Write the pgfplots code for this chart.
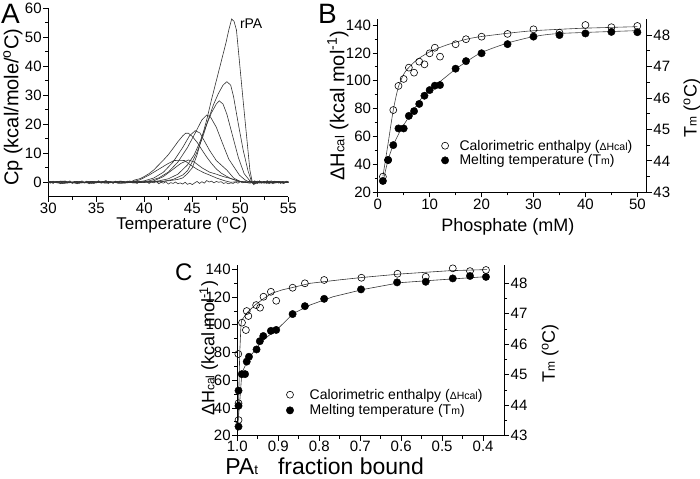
\documentclass[border=0pt]{standalone}
\usepackage{fontspec}
\setmainfont{Liberation Sans}
\usepackage{pgfplots}
\pgfplotsset{compat=1.18}
\newcommand{\fs}[1]{\fontsize{#1bp}{#1bp}\selectfont}

\pgfplotsset{
  panel/.style={
    scale only axis, anchor=south west, clip=false,
    axis line style={black, line width=0.8bp},
    tick style={black, line width=0.7bp},
    major tick length=5bp, minor tick length=3bp,
    tick align=outside,
    /pgf/number format/assume math mode=true,
    tick label style={font=\fs{15}, inner sep=1.5bp},
  },
  curve/.style={black!80, line width=0.6bp, mark=none},
  fit/.style={black!75, line width=0.6bp, mark=none, smooth, tension=0.4},
  opendot/.style={only marks, mark=o, mark size=3.5bp, mark options={line width=0.6bp, black}},
  filldot/.style={only marks, mark=*, mark size=3.7bp, mark options={black}},
}

\begin{document}
\begin{tikzpicture}
\useasboundingbox (0,0) rectangle (700bp,479bp);

% ---------------- panel A ----------------
\begin{axis}[panel,
  at={(48.3bp,282.2bp)}, width=240bp, height=188.5bp,
  xmin=30, xmax=55, ymin=-5, ymax=60,
  axis x line*=bottom, axis y line*=left,
  xtick={30,35,...,55}, ytick={0,10,...,60},
  minor x tick num=1, minor y tick num=1,
  every axis x label/.style={at={(axis description cs:0.556,-0.175)}, anchor=base, font=\fs{17}},
  every axis y label/.style={at={(axis description cs:-0.125,0.475)}, anchor=base, rotate=90, font=\fs{20}},
  xlabel={Temperature (\textsuperscript{o}C)},
  ylabel={Cp (kcal/mole/\textsuperscript{o}C)},
]
% flat trace
\addplot[curve] coordinates {(30,0.2)(30.25,-0.3)(30.5,0.4)(30.75,-0.1)(31,0.3)(31.25,-0.5)(31.5,0.1)(31.75,0.5)(32,-0.2)(32.25,0.2)(32.5,-0.4)(32.75,0.3)(33,0.0)(33.25,-0.3)(33.5,0.5)(33.75,-0.1)(34,0.2)(34.25,-0.5)(34.5,0.3)(34.75,0.1)(35,-0.2)(35.25,0.4)(35.5,-0.3)(35.75,0.2)(36,0.6)(36.25,-0.1)(36.5,0.1)(36.75,-0.4)(37,0.3)(37.25,-0.2)(37.5,0.4)(37.75,0.0)(38,-0.3)(38.25,0.2)(38.5,0.5)(38.75,-0.2)(39,0.1)(39.25,-0.4)(39.5,0.3)(39.75,0.2)(40,-0.1)(40.25,0.3)(40.5,-0.4)(40.75,0.1)(41,-0.2)(41.25,0.3)(41.5,-0.5)(41.75,0.0)(42,-0.3)(42.25,0.2)(42.5,-0.6)(42.75,-0.1)(43,-0.4)(43.25,0.1)(43.5,-0.5)(43.75,-0.2)(44,-0.6)(44.25,0.0)(44.5,-0.7)(44.75,-0.3)(45,-0.8)(45.25,-0.2)(45.5,0.3)(45.75,-0.4)(46,0.2)(46.25,-0.3)(46.5,0.6)(46.75,0.1)(47,0.4)(47.25,-0.2)(47.5,0.3)(47.75,0.0)(48,0.2)(48.25,-0.4)(48.5,-0.1)(48.75,-0.5)(49,-0.2)(49.25,-0.4)(49.5,0.1)(49.75,-0.3)(50,0.2)(50.25,-0.2)(50.5,0.3)(50.75,0.0)(51,0.4)(51.25,-0.3)(51.5,0.5)(51.75,-0.1)(52,0.4)(52.25,-0.2)(52.5,0.3)(52.75,-0.4)(53,0.2)(53.25,0.5)(53.5,-0.2)(53.75,0.3)(54,-0.3)(54.25,0.1)(54.5,-0.4)(54.75,0.2)(55,-0.1)};
% rPA
\addplot[curve] coordinates {(30,0.1)(31.5,-0.3)(33,0.3)(34.5,-0.2)(36,0.2)(37.5,-0.3)(39,0.2)(40.5,0.1)(41.5,0.3)(42.5,0.5)(43.5,1.0)(44,1.5)(44.5,3)(45,5)(45.5,9.5)(46,15.5)(46.5,21.5)(47,28.5)(47.5,35)(48,41.5)(48.5,48)(48.8,52.5)(49.1,56.3)(49.35,55.5)(49.6,52.5)(50.3,28)(51.0,4.2)(51.25,0)(51.4,-0.8)(51.6,0.2)(51.8,-0.4)(52,0.5)(52.2,-0.3)(52.4,0.3)(52.6,-0.2)(52.8,0.6)(53,-0.3)(53.2,0.2)(53.4,-0.5)(53.6,0.4)(53.8,-0.1)(54,0.3)(54.2,-0.4)(54.4,0.2)(54.6,-0.2)(54.8,0.4)(55,0)};
% peak 35
\addplot[curve] coordinates {(30,-0.2)(31.5,0.3)(33,-0.2)(34.5,0.3)(36,-0.1)(37.5,0.3)(39,-0.2)(40.5,0.2)(41.5,0.1)(42,0.3)(43,1)(44,2.5)(44.5,4)(45.1,7.7)(45.5,10.5)(46.1,15.7)(46.6,21)(47.2,26.7)(47.7,30.5)(48.2,33.5)(48.6,34.7)(49,33.5)(49.3,29.5)(49.8,20)(50.3,11.1)(50.8,4)(51.2,0)(51.5,-0.6)(52,0.3)(52.5,-0.3)(53,0.4)(53.5,-0.2)(54,0.3)(54.5,-0.3)(55,0.2)};
% peak 28
\addplot[curve] coordinates {(30,0.3)(31.5,-0.2)(33,0.2)(34.5,-0.4)(36,0.3)(37.5,-0.2)(39,0.3)(40.5,0)(41.5,0.5)(42.5,1.2)(43.5,2.8)(44.5,6)(45.2,9.5)(45.8,14)(46.5,20)(47,24)(47.5,27)(47.8,28.1)(48.2,27)(48.6,23.5)(49.2,16)(49.8,8.5)(50.4,3)(51,0.5)(51.3,-0.3)(51.8,0.4)(52.3,-0.2)(52.8,0.3)(53.3,-0.3)(53.8,0.2)(54.3,-0.2)(55,0.1)};
% peak 23
\addplot[curve] coordinates {(30,-0.1)(31.5,0.2)(33,-0.3)(34.5,0.2)(36,-0.2)(37.5,0.4)(39,-0.1)(39.5,0)(40.5,0.5)(41.5,1.5)(42.5,3.5)(43.5,7)(44.5,12)(45.3,17)(46,21.5)(46.5,23.2)(46.9,22.5)(47.5,19)(48.2,13)(48.8,8)(49.3,5.5)(49.9,2.5)(50.5,0.8)(51,0)(51.5,0.4)(52,-0.3)(52.5,0.2)(53,-0.4)(53.5,0.3)(54,-0.1)(55,0.2)};
% peak 18
\addplot[curve] coordinates {(30,0.2)(31.5,-0.4)(33,0.1)(34.5,-0.1)(36,0.4)(37.5,-0.3)(39,0)(40,0.5)(41,1.5)(42,3.5)(43,7)(44,12)(44.7,16)(45.3,17.8)(45.8,17)(46.1,15.2)(46.8,11)(47.5,7.5)(48.6,4.2)(49.3,1.5)(49.9,0.4)(50.5,0)(51,-0.3)(51.5,0.3)(52.5,-0.2)(53.5,0.3)(54.5,-0.2)(55,0)};
% peak 17 (left)
\addplot[curve] coordinates {(30,-0.2)(30.25,0.3)(30.5,-0.4)(30.75,0.2)(31,0.0)(31.25,0.4)(31.5,-0.3)(31.75,0.1)(32,-0.1)(32.25,0.5)(32.5,-0.2)(32.75,0.2)(33,-0.5)(33.25,0.3)(33.5,0.1)(33.75,-0.3)(34,0.4)(34.25,-0.1)(34.5,0.2)(34.75,-0.4)(35,0.1)(35.25,0.5)(35.5,-0.2)(35.75,0.0)(36,0.3)(36.25,-0.4)(36.5,0.2)(36.75,-0.1)(37,0.4)(37.25,-0.3)(37.5,0.1)(37.75,0.3)(38,-0.2)(38.25,0.4)(38.5,0.2)(38.75,0.4)(39,0.8)(39.5,1.2)(40,2)(40.5,3)(41,4.3)(41.5,6)(42,7.7)(42.5,9.5)(43,11.7)(43.5,14)(44,16)(44.3,16.9)(44.6,16.9)(45,15.8)(45.5,13.8)(46,11.2)(46.5,8.7)(47,6.5)(47.5,4.6)(48,3.2)(48.5,2.2)(49,1.3)(49.5,0.7)(50,0.3)(50.5,0)(51,0.2)(51.5,-0.3)(52,0.2)(53,-0.2)(54,0.3)(55,0)};
% peak 8
\addplot[curve] coordinates {(30,0.1)(31.5,0.4)(33,-0.2)(34.5,0.3)(36,-0.3)(37.5,0.2)(39,-0.2)(40,0)(41,0.5)(42,2)(43,4.5)(43.8,6.5)(44.6,7.7)(45.2,7)(46,5)(46.8,3.5)(47.5,2.8)(48.2,2)(48.9,1.4)(49.9,0.4)(50.5,0)(51,0.3)(51.5,-0.4)(52.5,0.3)(53.5,-0.3)(54.5,0.2)(55,0)};
% flat-top 7.5
\addplot[curve] coordinates {(30,0)(31.5,0.2)(33,-0.3)(34.5,0.1)(36,0.2)(37.5,-0.2)(38.5,0)(39.5,0.8)(40.5,2.5)(41.5,4.5)(42.5,6.5)(43.1,7.5)(43.7,7.6)(44.2,7.5)(44.8,6)(45.5,4.5)(46.2,3.3)(46.8,2.5)(47.5,1.5)(48.3,0.6)(49,0)(50,0.3)(51,-0.2)(52,0.3)(53,-0.2)(54,0.2)(55,0)};
\node[anchor=base west, font=\fs{14}, inner sep=0] at (axis cs:49.95,53.2) {rPA};
\end{axis}

% ---------------- panel B ----------------
\begin{axis}[panel,
  at={(377.7bp,286.7bp)}, width=269bp, height=173.3bp,
  xmin=0, xmax=51.8, ymin=20, ymax=144.3,
  axis x line*=bottom, axis y line*=left,
  xtick={0,10,...,50}, ytick={20,40,...,140},
  minor x tick num=1, minor y tick num=1,
  every axis x label/.style={at={(axis description cs:0.484,-0.227)}, anchor=base, font=\fs{18}},
  every axis y label/.style={at={(axis description cs:-0.124,0.5)}, anchor=base, rotate=90, font=\fs{20}},
  xlabel={Phosphate (mM)},
  ylabel={ΔH{\fs{13}cal} (kcal mol\textsuperscript{-1})},
]
\addplot[fit] coordinates {(1,31.5)(2,55)(3,79)(4,95.8)(5.3,106.5)(7.5,114.9)(10.1,120.9)(13.3,125.7)(17.1,129.8)(19.7,131.6)(24.9,134.0)(30,135.9)(39,137.6)(50,138.8)};
\addplot[opendot] coordinates {(1,31.2)(2,43)(3,79.0)(4,96.3)(5,101.3)(6,109.4)(7,105.8)(8,113.7)(9,111.8)(10,119.7)(11,123.7)(12,117.3)(15,126.2)(17,129.8)(20,131.6)(25,133.6)(30,136.9)(35,134.5)(40,140)(45,138.4)(50,139.3)};
\end{axis}
\begin{axis}[panel,
  at={(377.7bp,286.7bp)}, width=269bp, height=173.3bp,
  xmin=0, xmax=51.8, ymin=43, ymax=48.51,
  axis x line=none, axis y line*=right, xtick=\empty,
  ytick={43,...,48}, minor y tick num=1,
  every axis y label/.style={at={(axis description cs:1.186,0.485)}, anchor=base, rotate=90, font=\fs{18}},
  ylabel={T{\fs{12}m} (\textsuperscript{o}C)},
  legend cell align=left,
  legend style={at={(axis description cs:0.236,0.315)}, anchor=north west, draw=none, fill=none,
    font=\fs{14}, inner sep=0pt, row sep=-1bp, nodes={inner sep=2bp},
    /tikz/every odd column/.append style={column sep=8.8bp}},
]
\addlegendimage{opendot}
\addlegendentry{Calorimetric enthalpy ({\fs{10.5}ΔHcal})}
\addplot[fit, forget plot] coordinates {(1,43.32)(2,44.03)(3,44.5)(4.6,45.03)(6.9,45.62)(9.4,46.2)(12,46.52)(15.2,46.94)(19.7,47.42)(24.9,47.74)(30,47.95)(35.1,48.05)(50,48.14)};
\addplot[filldot] coordinates {(1,43.36)(2,44.03)(3,44.50)(4,45.03)(5,45.03)(6,45.43)(7,45.58)(8,45.81)(9,46.07)(10,46.25)(11,46.39)(12,46.41)(15,46.93)(17,47.17)(20,47.42)(25,47.71)(30,47.95)(35,48.0)(40,48.05)(45,48.10)(50,48.09)};
\addlegendentry{Melting temperature (T{\fs{10.5}m})}
\end{axis}

% ---------------- panel C ----------------
\begin{axis}[panel,
  at={(237.3bp,43.3bp)}, width=266.7bp, height=170.7bp,
  x dir=reverse, xmin=0.349, xmax=1.0, ymin=20, ymax=143.1,
  axis x line*=bottom, axis y line*=left,
  xtick={0.4,0.5,...,1.0}, ytick={20,40,...,140},
  minor x tick num=1, minor y tick num=1,
  xticklabel style={inner sep=0.5bp, /pgf/number format/.cd, fixed, fixed zerofill, precision=1},
  every axis x label/.style={at={(axis description cs:-0.058,-0.230)}, anchor=base west, font=\fs{23}},
  every axis y label/.style={at={(axis description cs:-0.086,0.512)}, anchor=base, rotate=90, font=\fs{18}},
  xlabel={PA{\fs{13.5}t}\hspace{20bp}fraction bound},
  ylabel={ΔH{\fs{12}cal} (kcal mol\textsuperscript{-1})},
]
\addplot[curve, line width=0.6bp] coordinates {(0.998,31)(0.994,80)(0.991,100)(0.989,103.4)(0.975,109)(0.957,114.2)(0.935,119)(0.916,122.7)(0.89,125.2)(0.863,127)(0.822,129.9)(0.75,132.4)(0.692,134.2)(0.603,136.6)(0.481,139)(0.39,139.8)};
\addplot[opendot] coordinates {(0.9975,78.9)(0.997,43.4)(0.997,31.3)(0.9885,101.5)(0.979,96.2)(0.977,109.9)(0.973,106.3)(0.954,114.2)(0.9445,112.3)(0.936,120.2)(0.918,123.8)(0.905,117.3)(0.865,126.7)(0.835,129.9)(0.788,132.3)(0.697,133.9)(0.609,136.8)(0.54,134.6)(0.474,140.7)(0.432,138.7)(0.393,139.5)};
\end{axis}
\begin{axis}[panel,
  at={(237.3bp,43.3bp)}, width=266.7bp, height=170.7bp,
  x dir=reverse, xmin=0.349, xmax=1.0, ymin=43, ymax=48.6,
  axis x line=none, axis y line*=right, xtick=\empty,
  ytick={43,...,48}, minor y tick num=1,
  every axis y label/.style={at={(axis description cs:1.191,0.483)}, anchor=base, rotate=90, font=\fs{18}},
  ylabel={T{\fs{12}m} (\textsuperscript{o}C)},
  legend cell align=left,
  legend style={at={(axis description cs:0.183,0.287)}, anchor=north west, draw=none, fill=none,
    font=\fs{14}, inner sep=0pt, row sep=0bp, nodes={inner sep=2bp},
    /tikz/every odd column/.append style={column sep=14bp}},
]
\addlegendimage{opendot}
\addlegendentry{Calorimetric enthalpy ({\fs{10.5}ΔHcal})}
\addplot[curve, forget plot] coordinates {(0.999,43.3)(0.993,44.3)(0.989,45.05)(0.979,45.35)(0.969,45.59)(0.952,45.9)(0.936,46.14)(0.92,46.32)(0.904,46.47)(0.863,47.01)(0.822,47.29)(0.766,47.56)(0.692,47.80)(0.603,48.02)(0.521,48.10)(0.39,48.22)};
\addplot[filldot] coordinates {(0.997,43.30)(0.997,43.98)(0.997,44.48)(0.989,45.02)(0.981,45.02)(0.977,45.43)(0.9715,45.59)(0.953,45.83)(0.945,46.10)(0.9365,46.27)(0.918,46.44)(0.905,46.47)(0.865,46.99)(0.835,47.25)(0.788,47.49)(0.698,47.80)(0.61,48.03)(0.54,48.05)(0.474,48.16)(0.432,48.24)(0.393,48.21)};
\addlegendentry{Melting temperature (T{\fs{10.5}m})}
\end{axis}

% panel letters
\node[anchor=north west, font=\fs{28}, inner sep=0] at (1bp,475bp) {A};
\node[anchor=north west, font=\fs{28}, inner sep=0] at (318bp,475bp) {B};
\node[anchor=north west, font=\fs{24}, inner sep=0] at (175bp,215bp) {C};
\end{tikzpicture}
\end{document}
